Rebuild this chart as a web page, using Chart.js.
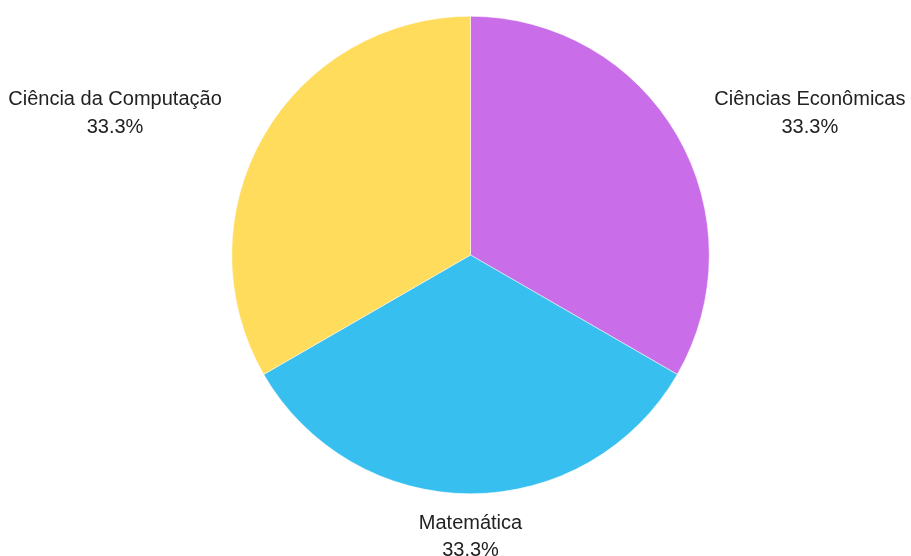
<!DOCTYPE html>
<html>
<head>
<meta charset="utf-8">
<script src="https://cdn.jsdelivr.net/npm/chart.js@4/dist/chart.umd.min.js"></script>
<style>
html,body{margin:0;padding:0;background:#fff;}
#wrap{width:911px;height:556px;position:relative;}
</style>
</head>
<body>
<div id="wrap"><canvas id="c"></canvas></div>
<script>
const categories = ["Ciências Econômicas", "Matemática", "Ciência da Computação"];
const values = [1, 1, 1];
const colors = ["#C96DE8", "#37BFEF", "#FFDC5B"];

const outsideLabels = {
  id: 'outsideLabels',
  afterDatasetsDraw(chart) {
    const ctx = chart.ctx;
    const meta = chart.getDatasetMeta(0);
    const total = values.reduce((a, b) => a + b, 0);
    ctx.save();
    ctx.font = '20px Arial, "Liberation Sans", sans-serif';
    ctx.fillStyle = '#222222';
    ctx.textBaseline = 'middle';
    ctx.textAlign = 'center';
    meta.data.forEach((arc, i) => {
      const p = arc.getProps(['x', 'y', 'startAngle', 'endAngle', 'outerRadius'], true);
      const mid = (p.startAngle + p.endAngle) / 2;
      const r = p.outerRadius;
      const ex = p.x + Math.cos(mid) * r;
      const ey = p.y + Math.sin(mid) * r;
      const t1 = categories[i];
      const t2 = (values[i] / total * 100).toFixed(1) + '%';
      const w = ctx.measureText(t1).width;
      let bx, y1, gap;
      const c = Math.cos(mid);
      if (Math.abs(c) < 0.2) {
        bx = ex;
        y1 = ey + 30;
        gap = 27;
      } else if (c > 0) {
        bx = p.x + r + 5 + w / 2;
        y1 = ey - 36;
        gap = 28;
      } else {
        bx = p.x - r - 10 - w / 2;
        y1 = ey - 36;
        gap = 28;
      }
      ctx.fillText(t1, bx, y1);
      ctx.fillText(t2, bx, y1 + gap);
    });
    ctx.restore();
  }
};

new Chart(document.getElementById('c'), {
  type: 'pie',
  data: {
    labels: categories,
    datasets: [{
      data: values,
      backgroundColor: colors,
      borderColor: '#ffffff',
      borderWidth: 0.5
    }]
  },
  options: {
    responsive: true,
    maintainAspectRatio: false,
    animation: false,
    layout: { padding: { top: 16, bottom: 62, left: 30, right: 0 } },
    plugins: {
      legend: { display: false },
      tooltip: { enabled: false }
    }
  },
  plugins: [outsideLabels]
});
</script>
</body>
</html>
